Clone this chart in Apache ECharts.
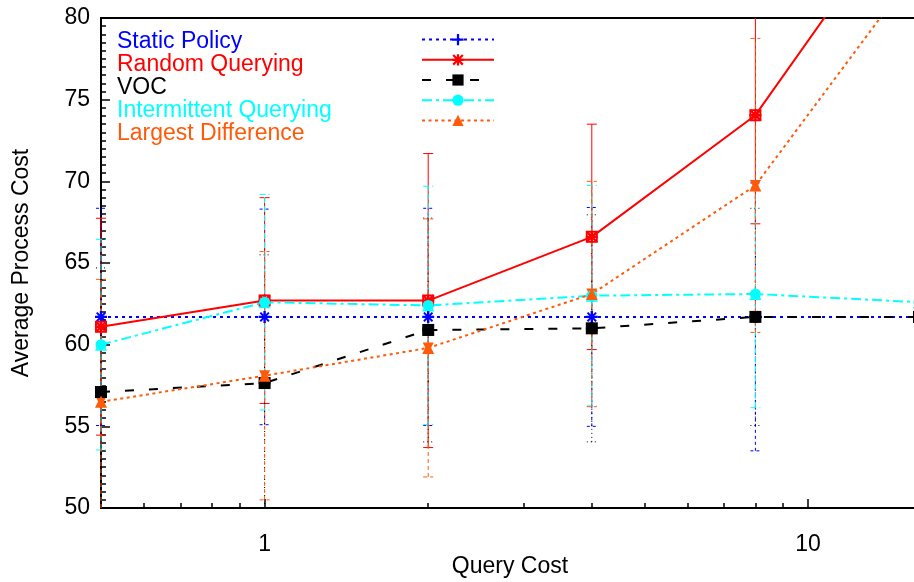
<!DOCTYPE html>
<html><head><meta charset="utf-8">
<script src="https://cdn.jsdelivr.net/npm/echarts@6/dist/echarts.min.js"></script>
<style>html,body{margin:0;padding:0;background:#fff;}#c{width:914px;height:582px;}</style>
</head><body><div id="c"></div>
<script>
// ---- data ----
const queryCost = [0.5, 1, 2, 4, 8, 16];
const seriesNames = ['Static Policy', 'Random Querying', 'VOC', 'Intermittent Querying', 'Largest Difference'];
const staticPolicy = [61.7, 61.7, 61.7, 61.7, 61.7, 61.7];
const staticPolicyErr = [6.65, 6.6, 6.65, 6.7, 8.2, 6.7];
const randomQuerying = [61.1, 62.7, 62.7, 66.6, 74.05, 88.2];
const randomQueryingErr = [6.64, 6.3, 9.0, 6.9, 6.65, 7.0];
const voc = [57.1, 57.65, 60.9, 61.0, 61.7, 61.7];
const vocErr = [7.6, 7.85, 6.85, 6.95, 6.65, 6.7];
const intermittent = [60.0, 62.6, 62.4, 63.0, 63.1, 62.6];
const intermittentErr = [6.45, 6.6, 7.3, 6.75, 6.96, 6.4];
const largestDiff = [56.5, 58.1, 59.8, 63.1, 69.75, 83.2];
const largestDiffErr = [7.5, 7.6, 7.9, 6.9, 9.0, 9.0];
const xMajorTicks = [1, 10];
const xMinorTicks = [0.6, 0.7, 0.8, 0.9, 2, 3, 4, 5, 6, 7, 8, 9];
const yMin = 50, yMax = 80, yStep = 5;
const xMin = 0.5, xMax = 16;

// ---- style ----
const FONT = 'Liberation Sans, Arial, Helvetica, sans-serif';
const FS = 23;
const colors = ['#0000ff', '#ff0000', '#000000', '#00ffff', '#ff5a0a'];
const lineDash = [[3, 4], 'solid', [9, 15], [10, 4, 3, 4], [3, 3.5]];
const errDash = [[3, 3], 'solid', [1, 3], [6, 3], [4, 3]];
const P = {
  plus: 'path://M4,0H6V4H10V6H6V10H4V6H0V4H4Z',
  cross: 'path://M1.4,0L5,3.6L8.6,0L10,1.4L6.4,5L10,8.6L8.6,10L5,6.4L1.4,10L0,8.6L3.6,5L0,1.4Z',
  star: 'path://M4,0H6V4H10V6H6V10H4V6H0V4H4Z M1.4,0L5,3.6L8.6,0L10,1.4L6.4,5L10,8.6L8.6,10L5,6.4L1.4,10L0,8.6L3.6,5L0,1.4Z',
  box: 'path://M0,0H10V10H0Z M1.6,1.6V8.4H8.4V1.6Z',
  tri: 'path://M5,0L10,9H0Z',
  triOpen: 'path://M5,0L10,9H0Z M5,2.6L1.8,7.9H8.2Z',
  triDown: 'path://M0,1H10L5,10Z'
};
const mainSym = [P.plus, P.star, 'rect', 'circle', P.tri];
const mainSize = [12, 12, 12, 11, 12];
const extraSym = [P.cross, P.box, 'emptyCircle', P.triOpen, P.triDown];
const extraSize = [10, 12, 10, 12, 11];
const values = [staticPolicy, randomQuerying, voc, intermittent, largestDiff];
const errs = [staticPolicyErr, randomQueryingErr, vocErr, intermittentErr, largestDiffErr];

function errSeries(i) {
  const color = colors[i], dash = errDash[i];
  return {
    type: 'custom', name: seriesNames[i] + ' errorbars', z: 2, silent: true,
    data: queryCost.map((x, k) => [x, values[i][k] - errs[i][k], values[i][k] + errs[i][k]]),
    encode: { x: 0, y: [1, 2] },
    renderItem: function (params, api) {
      const x = api.value(0);
      const loV = api.value(1), hiV = api.value(2);
      const lo = api.coord([x, Math.max(loV, yMin)]);
      const hi = api.coord([x, Math.min(hiV, yMax)]);
      const w = 5;
      const style = { stroke: color, lineWidth: 1, lineDash: dash === 'solid' ? null : dash, fill: null };
      const ch = [{ type: 'line', shape: { x1: lo[0], y1: lo[1], x2: hi[0], y2: hi[1] }, style: style }];
      if (loV >= yMin) ch.push({ type: 'line', shape: { x1: lo[0] - w, y1: lo[1], x2: lo[0] + w, y2: lo[1] }, style: style });
      if (hiV <= yMax) ch.push({ type: 'line', shape: { x1: hi[0] - w, y1: hi[1], x2: hi[0] + w, y2: hi[1] }, style: style });
      return { type: 'group', children: ch };
    }
  };
}

const series = [];
for (let i = 0; i < 5; i++) {
  series.push(errSeries(i));
  series.push({
    type: 'scatter', name: seriesNames[i] + ' pts', z: 3, silent: true,
    data: queryCost.map((x, k) => [x, values[i][k]]),
    symbol: extraSym[i], symbolSize: extraSize[i],
    itemStyle: { color: colors[i], borderColor: colors[i], borderWidth: extraSym[i] === 'emptyCircle' ? 1.5 : 0, opacity: 1 }
  });
  series.push({
    type: 'line', name: seriesNames[i], z: 4,
    data: queryCost.map((x, k) => [x, values[i][k]]),
    symbol: mainSym[i], symbolSize: mainSize[i], showAllSymbol: true,
    lineStyle: { color: colors[i], width: 2, type: lineDash[i] },
    itemStyle: { color: colors[i], borderWidth: 0 },
    emphasis: { disabled: true }
  });
}

const chart = echarts.init(document.getElementById('c'), null, { renderer: 'canvas' });
chart.setOption({
  animation: false,
  backgroundColor: '#fff',
  textStyle: { fontFamily: FONT },
  grid: { left: 101, top: 18, right: -5, bottom: 74, containLabel: false, outerBoundsMode: 'none',
          show: true, borderColor: '#000', borderWidth: 2, backgroundColor: 'transparent' },
  legend: [{
    // text column
    orient: 'vertical', left: 112, top: 30, padding: 0, itemGap: 0, align: 'left',
    icon: 'none', itemWidth: 0, itemHeight: 14, selectedMode: false,
    textStyle: { fontSize: FS, fontFamily: FONT, lineHeight: 23 },
    data: seriesNames.map((n, i) => ({ name: n, textStyle: { color: colors[i] } }))
  }, {
    // sample column
    orient: 'vertical', left: 421, top: 34, padding: 0, itemGap: 9, align: 'left',
    itemWidth: 72, itemHeight: 14, selectedMode: false,
    formatter: () => '',
    textStyle: { fontSize: 1, lineHeight: 1 },
    data: seriesNames.slice()
  }],
  xAxis: [{
    type: 'log', logBase: 10, min: xMin, max: xMax,
    name: 'Query Cost', nameLocation: 'middle', nameGap: 47, nameMoveOverlap: false,
    nameTextStyle: { fontSize: FS, color: '#000', fontFamily: FONT },
    axisLine: { show: true, lineStyle: { color: '#000', width: 2 } },
    axisTick: { show: true, inside: true, length: 9, customValues: xMajorTicks, lineStyle: { color: '#000', width: 1.5 } },
    axisLabel: { customValues: xMajorTicks, fontSize: FS, color: '#000', margin: 25, fontFamily: FONT, formatter: v => String(Math.round(v)) },
    splitLine: { show: false }, minorTick: { show: false }
  }, {
    type: 'log', logBase: 10, min: xMin, max: xMax, position: 'bottom', offset: 0,
    axisLine: { show: false },
    axisTick: { show: true, inside: true, length: 5, customValues: xMinorTicks, lineStyle: { color: '#000', width: 1.5 } },
    axisLabel: { show: false }, splitLine: { show: false }
  }],
  yAxis: {
    type: 'value', min: yMin, max: yMax, interval: yStep,
    name: 'Average Process Cost', nameLocation: 'middle', nameGap: 68, nameMoveOverlap: false,
    nameTextStyle: { fontSize: FS, color: '#000', fontFamily: FONT },
    axisLine: { show: true, lineStyle: { color: '#000', width: 2 } },
    axisTick: { show: true, inside: true, length: 9, lineStyle: { color: '#000', width: 1.5 } },
    minorTick: { show: true, splitNumber: 10, length: 5, lineStyle: { color: '#000', width: 1.5 } },
    axisLabel: { fontSize: FS, color: '#000', margin: 11, fontFamily: FONT },
    splitLine: { show: false }
  },
  series: series
});
</script></body></html>
